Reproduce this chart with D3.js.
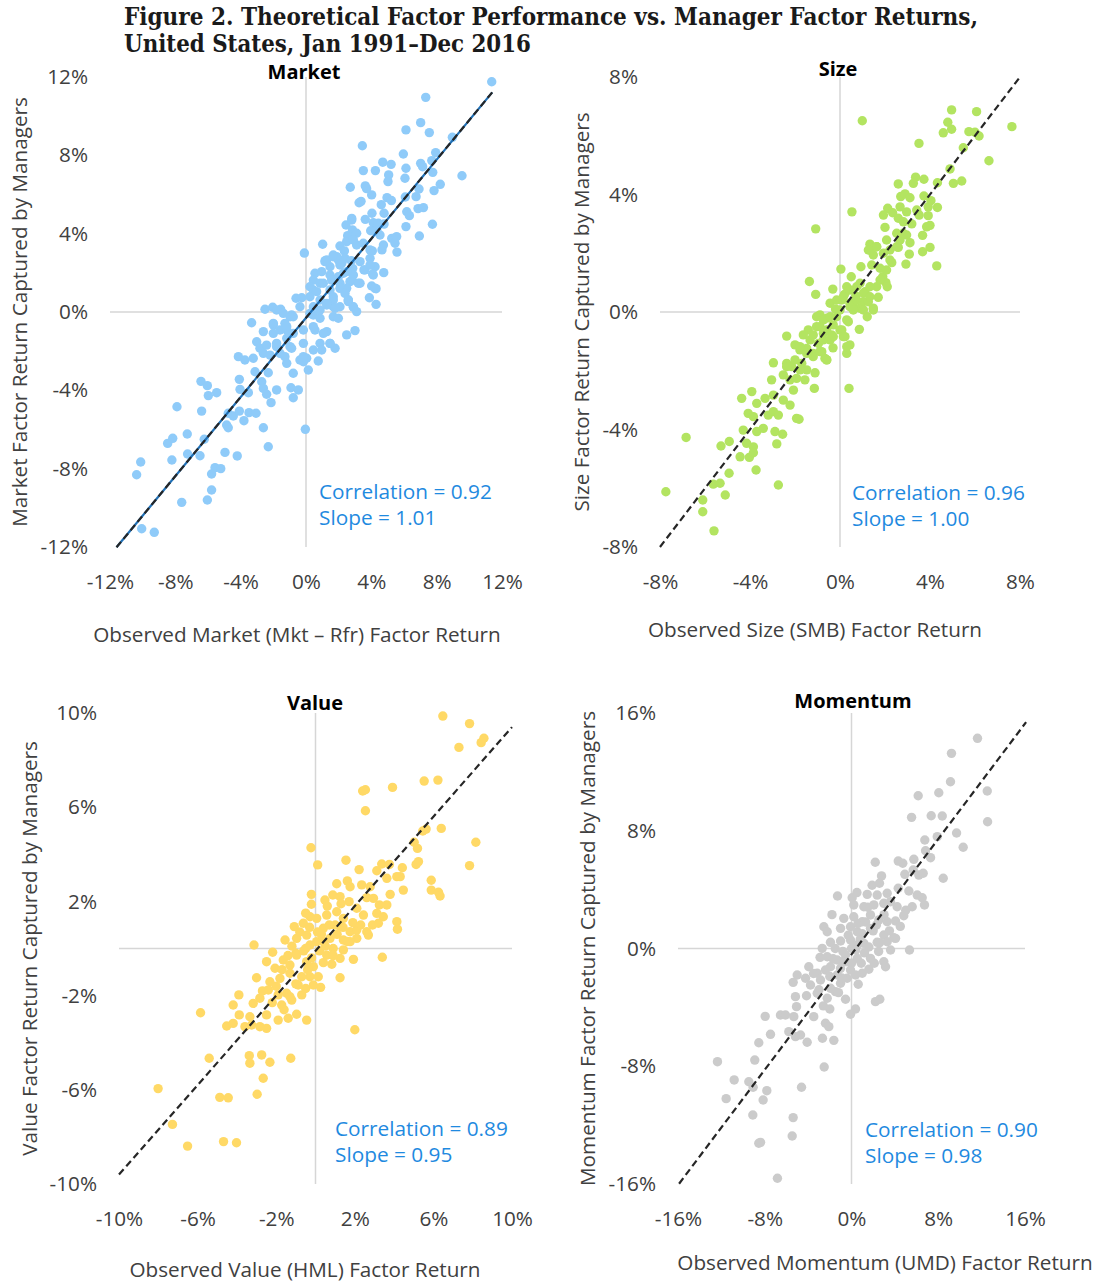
<!DOCTYPE html>
<html>
<head>
<meta charset="utf-8">
<script src="https://cdn.jsdelivr.net/npm/d3@7"></script>
<style>
  body { margin: 0; background: #fff; }
  svg text { font-family: "Open Sans", "Noto Sans", sans-serif; }
</style>
</head>
<body>
<svg id="chart" width="1099" height="1283"></svg>
<script>
// observed factor return (x) vs return captured by managers (y), in %
const marketPts = [
  [11.37,11.76],[7.33,10.96],[7.02,9.67],[6.12,9.30],[7.55,9.16],[8.96,8.92],[3.45,8.49],[5.96,8.07],[7.94,8.14],[4.70,7.65],
  [5.21,7.54],[7.02,7.59],[7.70,7.73],[6.12,7.34],[7.14,7.42],[3.51,7.22],[4.25,7.22],[7.76,7.13],[5.06,7.00],[6.06,6.83],
  [9.55,6.96],[5.02,6.66],[2.71,6.37],[3.63,6.44],[8.22,6.52],[3.71,6.30],[4.02,5.98],[6.92,6.28],[7.84,6.20],[4.96,5.84],
  [5.23,5.69],[6.08,5.87],[6.74,5.89],[3.25,5.58],[3.37,5.65],[4.61,5.48],[6.86,5.28],[7.19,5.33],[6.17,5.12],[6.33,4.92],
  [4.04,5.04],[4.78,5.04],[2.80,4.78],[3.63,4.73],[2.45,4.44],[4.12,4.56],[4.43,4.53],[4.78,4.49],[6.12,4.36],[7.74,4.48],
  [2.84,4.19],[3.96,4.15],[2.55,3.90],[2.65,3.85],[4.53,3.93],[5.25,3.76],[5.55,3.85],[5.45,3.51],[6.94,3.88],[2.08,3.37],
  [1.02,3.46],[3.10,3.42],[3.51,3.51],[2.35,3.12],[4.06,3.12],[4.65,3.17],[5.57,3.06],[-0.10,3.01],[1.18,2.62],[1.67,2.82],
  [1.98,2.66],[2.39,2.74],[2.77,2.62],[3.31,2.57],[3.92,2.74],[1.47,2.31],[2.08,2.40],[2.86,2.23],[3.55,2.15],[4.23,2.31],
  [0.55,1.98],[0.96,2.06],[1.47,1.89],[2.29,1.98],[2.90,1.89],[4.08,1.94],[4.76,2.01],[0.45,1.63],[0.86,1.47],[1.67,1.63],
  [2.08,1.47],[2.69,1.55],[3.31,1.47],[0.45,1.12],[1.47,1.12],[2.49,1.21],[4.02,1.33],[4.29,1.19],[-0.61,0.70],[-0.26,0.73],
  [0.24,0.78],[0.86,0.61],[1.67,0.78],[2.59,0.61],[3.88,0.73],[-2.51,0.14],[-2.04,0.24],[-1.55,0.14],[0.45,0.27],[1.67,0.27],
  [2.90,0.24],[4.29,0.39],[-0.88,-0.15],[-0.37,0.27],[1.27,0.36],[2.59,0.53],[3.10,0.02],[2.08,0.27],[-3.33,-0.55],[-2.00,-0.66],
  [-1.29,-0.58],[-0.78,-0.24],[0.45,-0.15],[0.86,-0.32],[1.67,-0.24],[1.98,-0.32],[-2.61,-1.00],[-2.00,-1.09],[-1.18,-0.92],[0.55,-0.92],
  [1.27,-1.00],[2.49,-1.17],[3.00,-0.95],[-3.02,-1.52],[-2.82,-1.85],[-2.41,-1.69],[-1.80,-1.60],[-1.18,-1.34],[-0.16,-1.60],[0.45,-1.94],
  [0.86,-1.60],[1.47,-1.60],[1.78,-1.85],[-4.14,-2.28],[-3.74,-2.45],[-3.23,-2.36],[-2.61,-2.11],[-2.20,-2.20],[-1.59,-2.11],[-1.29,-2.28],
  [-0.88,-1.85],[-0.37,-2.45],[0.04,-2.36],[0.96,-1.94],[-1.18,-2.62],[-0.16,-2.54],[0.14,-2.96],[0.75,-2.50],[-3.12,-3.05],[-2.31,-3.10],
  [-0.78,-3.13],[-4.08,-3.44],[-2.71,-3.56],[-6.43,-3.54],[-6.04,-3.76],[-5.47,-4.12],[-5.98,-4.27],[-4.04,-3.95],[-3.53,-4.12],[-2.61,-3.90],
  [-2.41,-4.20],[-1.80,-3.98],[-0.92,-3.87],[-0.47,-3.98],[-0.78,-4.38],[-2.14,-4.63],[-7.90,-4.84],[-6.39,-5.06],[-4.76,-5.17],[-4.45,-5.31],
  [-4.08,-5.06],[-3.49,-5.14],[-3.06,-5.17],[-3.80,-5.55],[-4.86,-5.77],[-4.76,-5.91],[-2.61,-5.91],[-0.04,-5.99],[-8.47,-6.71],[-8.16,-6.45],
  [-7.27,-6.23],[-6.23,-6.50],[-2.31,-6.88],[-7.25,-7.25],[-6.49,-7.34],[-4.96,-7.17],[-4.21,-7.35],[-8.21,-7.56],[-10.12,-7.66],[-10.37,-8.31],
  [-5.57,-7.95],[-5.22,-8.00],[-5.78,-8.27],[-5.78,-9.09],[-6.04,-9.60],[-7.61,-9.72],[-10.06,-11.07],[-9.29,-11.25],
  [1.16,2.57],[1.88,2.83],[2.19,2.49],[2.49,2.06],[2.80,1.63],[3.20,1.47],[3.61,2.15],[3.92,2.40],[4.12,1.89],[4.23,1.21],
  [0.24,1.29],[0.65,1.04],[1.06,1.47],[1.57,1.63],[1.98,1.80],[2.08,1.21],[2.39,0.95],[1.67,0.61],[1.27,0.44],[0.86,0.10],
  [0.24,-0.07],[1.78,0.19],[2.90,0.27],[2.59,0.61],[2.80,4.70],[3.10,4.02],[3.92,3.17],[4.33,4.19],[4.74,3.42],[2.49,3.59],
  [2.90,3.68],[1.27,2.66],[1.67,2.91],[-1.80,0.10],[-1.39,-0.07],[-0.98,-0.24],[-2.00,-0.58],[-1.59,-0.92],[-1.18,-0.75],[-0.78,-1.09],
  [-0.16,-0.92],[0.45,-0.75],[1.06,-1.09],[1.47,-1.60],[-0.16,-2.28],[-0.98,-1.77],[-1.80,-1.77]
];

const sizePts = [
  [4.96,6.88],[6.07,6.82],[0.99,6.51],[4.79,6.46],[4.96,6.22],[4.59,6.10],[5.73,6.14],[6.00,6.12],[6.18,5.99],[7.64,6.31],
  [3.51,5.74],[5.48,5.59],[6.62,5.15],[4.89,4.87],[5.04,4.38],[5.41,4.46],[4.33,4.40],[2.59,4.36],[3.36,4.59],[3.73,4.52],
  [3.26,4.38],[2.70,3.93],[2.89,4.02],[3.11,3.89],[3.73,3.95],[4.04,3.79],[0.53,3.41],[2.12,3.53],[1.93,3.30],[2.34,3.38],
  [2.67,3.58],[2.96,3.41],[3.41,3.47],[3.92,3.58],[4.33,3.56],[2.59,3.19],[2.82,3.07],[3.19,3.00],[3.52,3.30],[3.92,3.28],
  [-1.08,2.83],[2.00,2.88],[2.52,2.68],[2.96,2.62],[3.85,2.90],[4.00,2.95],[3.67,2.61],[1.33,2.31],[1.63,2.22],[2.22,2.11],
  [2.59,2.20],[3.11,2.36],[3.67,2.05],[4.00,2.20],[1.26,2.11],[1.48,1.94],[3.08,1.97],[0.04,1.46],[0.93,1.54],[1.41,1.60],
  [1.78,1.49],[2.30,1.68],[2.93,1.63],[4.30,1.57],[-1.36,1.04],[-1.08,0.60],[-0.32,0.78],[0.30,0.86],[0.89,0.98],[1.11,0.69],
  [1.63,0.86],[2.04,1.00],[2.10,0.86],[-0.44,0.30],[0.08,0.41],[0.59,0.30],[1.04,0.35],[1.26,0.35],[1.48,0.13],[0.44,0.18],
  [0.89,0.13],[1.21,-0.16],[0.20,0.60],[0.70,0.55],[-0.20,0.10],[1.70,0.50],[1.90,1.20],[0.50,1.20],[-0.89,-0.10],[-0.59,-0.21],
  [-0.15,-0.16],[0.37,-0.33],[-1.41,-0.61],[-1.04,-0.50],[-0.74,-0.73],[-0.37,-0.78],[0.08,-0.61],[0.22,-0.84],[0.86,-0.59],[-2.37,-0.82],
  [-1.63,-0.78],[-1.33,-0.95],[-0.96,-1.07],[-0.44,-0.95],[-0.31,-1.22],[0.44,-1.12],[0.30,-1.41],[-2.00,-1.12],[-1.78,-1.29],[-1.48,-1.24],
  [-1.19,-1.41],[-0.81,-1.35],[-0.67,-1.58],[-2.96,-1.73],[-2.37,-1.75],[-2.15,-1.86],[-1.70,-1.75],[-1.48,-1.97],[-1.11,-2.07],[-0.59,-1.63],
  [-3.04,-2.31],[-2.52,-2.14],[-2.22,-2.31],[-1.93,-2.26],[-1.56,-2.31],[-1.14,-2.60],[0.40,-2.60],[-4.37,-2.94],[-3.92,-2.71],[-3.70,-3.11],
  [-3.33,-2.94],[-2.96,-2.83],[-2.52,-3.00],[-2.22,-3.17],[-2.07,-2.66],[-4.08,-3.45],[-3.85,-3.56],[-3.19,-3.51],[-2.96,-3.39],[-2.74,-3.51],
  [-1.93,-3.62],[-1.82,-3.65],[-4.30,-4.02],[-3.70,-4.07],[-3.41,-3.96],[-2.89,-4.07],[-2.55,-4.16],[-6.84,-4.27],[-5.29,-4.56],[-4.92,-4.41],
  [-4.15,-4.47],[-3.85,-4.59],[-2.81,-4.49],[-4.44,-4.93],[-4.03,-4.95],[-3.85,-4.79],[-4.93,-5.49],[-3.73,-5.38],[-5.63,-5.86],[-5.33,-5.83],
  [-2.74,-5.89],[-7.74,-6.12],[-5.10,-6.23],[-6.10,-6.40],[-6.10,-6.80],[-5.60,-7.45],
  [-1.04,-0.16],[-0.74,-0.27],[-0.44,-0.16],[-0.89,-0.50],[-0.59,-0.61],[-0.30,-0.44],[-1.19,-0.78],[-0.74,-0.95],[-0.30,-0.84],[0.00,-0.61],
  [0.30,-0.27],[0.15,-0.84],[0.30,-1.18],[-1.78,-1.18],[-1.48,-1.41],[-1.19,-1.52],[-0.89,-1.35],[-0.59,-1.63],[-2.00,-1.63],[-2.37,-1.86],
  [-1.78,-1.97],[-0.15,0.41],[0.15,0.52],[0.44,0.30],[0.74,0.41],[1.04,0.64],[1.33,0.86],[0.74,0.86],[0.44,0.75],[0.00,0.07],
  [0.59,0.07],[1.04,0.07],[1.33,0.52],[1.48,0.07],[1.78,1.09],[2.07,1.43],[1.93,2.00],[1.33,2.11],[1.63,2.22],[2.22,1.77],
  [2.52,2.22],[2.67,2.45],[2.07,2.45],[2.81,2.68]
];

const valuePts = [
  [6.48,9.87],[7.84,9.55],[7.30,8.54],[8.43,8.74],[8.57,8.93],[2.40,6.69],[2.54,6.74],[2.54,5.85],[3.92,6.84],[5.53,7.11],
  [6.23,7.15],[5.46,4.99],[5.63,5.07],[6.40,5.10],[-0.23,4.28],[8.16,4.51],[5.02,4.51],[5.19,4.25],[0.11,3.55],[1.55,3.75],
  [2.22,3.35],[3.12,3.30],[3.37,3.59],[3.76,3.57],[4.42,3.43],[5.12,3.57],[5.24,3.69],[7.84,3.52],[1.08,2.75],[1.62,2.87],
  [1.76,2.62],[2.35,2.70],[2.78,2.62],[3.63,2.98],[4.14,3.05],[4.31,3.05],[5.89,2.90],[5.89,2.48],[6.26,2.39],[6.34,2.23],
  [-0.21,2.30],[-0.21,1.88],[0.48,2.06],[0.88,2.27],[1.25,2.20],[1.71,1.99],[2.61,2.16],[2.95,2.13],[3.25,1.85],[3.63,1.85],
  [3.80,2.30],[4.47,2.48],[-0.28,1.35],[-0.62,1.07],[0.06,1.28],[0.57,1.42],[1.08,1.56],[1.42,1.28],[2.10,1.71],[2.44,1.42],
  [3.12,1.49],[3.45,1.35],[-1.08,0.93],[0.40,0.86],[1.25,0.93],[1.76,0.71],[2.61,0.71],[3.20,1.07],[4.14,1.14],[4.17,0.82],
  [-1.55,0.36],[-0.96,0.43],[-0.45,0.57],[0.06,0.29],[0.74,0.43],[1.42,0.36],[2.10,0.43],[2.10,0.79],[-3.13,0.15],[-2.18,-0.16],
  [-0.28,0.15],[0.40,0.29],[1.42,-0.06],[1.76,0.29],[2.69,0.57],[-0.50,0.00],[0.20,-0.10],[-1.00,-0.20],[0.90,0.00],[-0.30,0.90],
  [0.30,0.60],[1.00,1.00],[1.93,-0.46],[3.40,-0.37],[-2.49,-0.56],[-2.06,-0.84],[-1.64,-0.49],[-1.30,-0.70],[-0.96,-0.28],[-0.45,-0.56],
  [-0.11,-0.77],[0.57,-0.28],[0.83,-0.67],[1.25,-0.42],[-3.00,-1.24],[-2.32,-1.41],[-1.81,-1.27],[-1.30,-1.05],[-0.88,-1.55],[-0.28,-1.20],
  [0.14,-1.20],[0.26,-1.65],[1.25,-1.24],[-2.40,-1.76],[-1.90,-1.97],[-1.47,-1.90],[-1.21,-2.19],[-0.70,-1.97],[-0.11,-1.55],[-3.90,-1.97],
  [-4.19,-2.40],[-3.17,-2.33],[-2.83,-2.11],[-1.72,-2.40],[-1.30,-2.05],[-5.85,-2.73],[-3.88,-2.82],[-3.34,-2.90],[-2.49,-2.82],[-1.90,-3.04],
  [-1.39,-2.96],[-0.96,-2.79],[-0.45,-3.04],[-4.52,-3.29],[-4.19,-3.18],[-3.59,-3.32],[-3.25,-3.25],[-2.83,-3.32],[-2.49,-3.39],[2.00,-3.45],
  [-5.41,-4.66],[-3.37,-4.55],[-3.34,-4.87],[-2.74,-4.52],[-2.32,-4.83],[-1.26,-4.66],[-2.66,-5.51],[-8.01,-5.95],[-4.87,-6.32],[-4.44,-6.34],
  [-2.97,-6.19],[-7.28,-7.47],[-6.51,-8.39],[-4.68,-8.20],[-4.02,-8.25],
  [-1.20,0.10],[-0.80,0.70],[-0.60,-0.10],[-0.20,-0.40],[0.10,0.70],[0.50,0.10],[0.70,1.00],[1.10,0.60],[1.40,0.90],[-1.40,-0.30],
  [-1.70,-0.90],[-0.70,-1.20],[-0.40,-0.90],[0.40,-0.60],[0.90,-0.30],[1.60,0.30],[1.90,1.10],[2.30,1.00],[-2.00,-1.60],[-1.00,-1.50],
  [-0.50,-1.70],[-2.70,-1.80],[0.60,1.80],[1.30,1.90],[-0.50,1.50],[-1.60,-2.60],[-2.20,-2.30],[2.90,1.00]
];

const momentumPts = [
  [11.62,14.28],[9.22,13.26],[9.13,11.33],[6.15,10.38],[8.05,10.58],[12.52,10.70],[5.54,8.91],[7.35,9.02],[8.37,9.00],[12.55,8.61],
  [6.76,7.37],[7.91,7.60],[9.69,7.85],[10.30,6.88],[6.83,6.64],[7.29,6.17],[2.19,5.86],[4.31,5.94],[4.73,5.79],[5.75,6.06],
  [5.69,5.33],[6.21,4.99],[6.61,5.11],[4.92,5.04],[8.46,4.77],[2.77,4.93],[2.58,4.43],[4.31,4.09],[3.29,3.75],[2.37,3.63],
  [-1.29,3.57],[0.06,3.45],[1.45,3.68],[5.29,3.91],[6.06,3.63],[6.52,3.45],[6.73,2.96],[5.60,2.84],[4.82,2.23],[0.21,2.96],
  [1.14,2.84],[2.06,2.96],[2.98,3.07],[3.60,3.18],[4.21,2.84],[-0.71,2.05],[0.21,2.16],[0.99,1.82],[1.75,2.28],[2.52,1.94],
  [3.29,1.82],[4.06,1.87],[-2.55,1.48],[-2.24,1.14],[-1.01,1.37],[-0.09,1.48],[0.53,1.14],[1.75,1.37],[2.98,0.92],[3.90,0.73],
  [-1.94,0.42],[-1.01,0.51],[-0.09,0.58],[1.14,0.35],[2.37,0.42],[3.29,0.46],[1.00,1.00],[2.00,1.20],[0.00,0.00],[1.20,-0.30],
  [2.50,-0.20],[0.80,0.60],[1.50,2.80],[-2.70,0.01],[0.53,0.24],[3.60,-0.10],[4.06,0.69],[5.35,-0.10],[-2.24,-0.56],[-1.32,-0.78],
  [-0.55,-0.44],[0.53,-0.67],[1.75,-0.67],[2.98,-0.90],[3.14,-1.24],[-0.50,-0.90],[-3.94,-1.24],[-1.94,-1.24],[-1.01,-1.35],[-0.09,-1.46],
  [1.60,-1.41],[-5.01,-1.80],[-4.24,-2.02],[-3.16,-1.68],[-2.40,-1.46],[-1.32,-1.80],[-0.40,-2.02],[0.37,-1.80],[0.99,-1.68],[-5.38,-2.30],
  [-3.78,-2.48],[-2.86,-2.14],[-1.94,-2.70],[-1.01,-2.36],[0.62,-2.43],[-5.17,-3.27],[-4.15,-3.21],[-3.16,-3.04],[-2.24,-3.38],[-1.48,-2.93],
  [-0.55,-3.45],[2.21,-3.61],[2.61,-3.45],[-5.07,-3.95],[-2.00,-4.11],[-0.09,-4.47],[0.37,-4.11],[-7.96,-4.61],[-6.55,-4.52],[-6.09,-4.52],
  [-5.32,-4.63],[-3.48,-4.63],[-2.40,-5.08],[-2.09,-5.31],[-7.47,-5.83],[-5.78,-5.65],[-5.17,-5.99],[-4.70,-5.88],[-4.09,-6.37],[-2.68,-6.10],
  [-1.63,-6.24],[-8.55,-6.40],[-12.36,-7.69],[-8.92,-7.58],[-2.52,-8.05],[-10.82,-8.93],[-9.47,-9.05],[-9.07,-9.43],[-7.81,-9.66],[-4.61,-9.43],
  [-11.56,-10.20],[-8.15,-10.29],[-9.10,-11.31],[-5.38,-11.49],[-8.55,-13.23],[-8.39,-13.17],[-5.47,-12.74],[-6.83,-15.61],
  [-1.50,0.00],[-0.80,-0.20],[0.40,-0.10],[1.60,0.10],[2.60,0.40],[-0.30,0.90],[0.60,1.70],[1.30,1.80],[2.30,1.60],[3.00,2.30],
  [-1.70,-0.70],[-0.90,-0.90],[0.00,-1.00],[0.90,-1.00],[2.10,-1.00],[-2.90,-0.60],[-3.50,-1.70],[-2.00,-1.90],[-0.90,-2.00],[-3.00,-2.80],
  [-2.60,-3.90],[-1.20,-3.00],[3.50,1.20],[4.50,1.50],[5.00,2.60],[-1.80,2.30],[0.50,3.80],[1.90,4.30]
];

// tick values per panel
const marketTicks = [-12, -8, -4, 0, 4, 8, 12];
const sizeTicks = [-8, -4, 0, 4, 8];
const valueTicks = [-10, -6, -2, 2, 6, 10];
const momentumTicks = [-16, -8, 0, 8, 16];

// fitted line: slope, intercept, x from, x to
const marketFit = [1.01, -0.3, -11.6, 11.4];
const sizeFit = [1.00, 0.0, -8.0, 8.0];
const valueFit = [0.95, -0.1, -10.0, 10.0];
const momentumFit = [0.98, -0.4, -15.9, 16.1];

const marketStats = ['Correlation = 0.92', 'Slope = 1.01'];
const sizeStats = ['Correlation = 0.96', 'Slope = 1.00'];
const valueStats = ['Correlation = 0.89', 'Slope = 0.95'];
const momentumStats = ['Correlation = 0.90', 'Slope = 0.98'];

const svg = d3.select('#chart');

// figure title
const title = svg.append('g')
  .attr('font-weight', 'bold')
  .attr('font-size', 24)
  .attr('fill', '#1a1a1a');
title.append('text').attr('x', 124).attr('y', 25)
  .style('font-family', '"DejaVu Serif", serif')
  .attr('textLength', 854).attr('lengthAdjust', 'spacingAndGlyphs')
  .text('Figure 2. Theoretical Factor Performance vs. Manager Factor Returns,');
title.append('text').attr('x', 124).attr('y', 52)
  .style('font-family', '"DejaVu Serif", serif')
  .attr('textLength', 407).attr('lengthAdjust', 'spacingAndGlyphs')
  .text('United States, Jan 1991\u2013Dec 2016');

const panels = [
  { name: 'Market', pts: marketPts, ticks: marketTicks, fit: marketFit, stats: marketStats,
    color: '#8fcbf9', under: '#1f6fb5',
    left: 110, right: 502, top: 77, bottom: 547,
    titleX: 304, titleY: 79,
    xTitle: 'Observed Market (Mkt \u2013 Rfr) Factor Return', xTitleX: 297, xTitleY: 642,
    yTitle: 'Market Factor Return Captured by Managers', yTitleX: 20,
    statX: 319, statY: 499 },
  { name: 'Size', pts: sizePts, ticks: sizeTicks, fit: sizeFit, stats: sizeStats,
    color: '#b3e461', under: null,
    left: 660, right: 1020, top: 77, bottom: 547,
    titleX: 838, titleY: 76,
    xTitle: 'Observed Size (SMB) Factor Return', xTitleX: 815, xTitleY: 637,
    yTitle: 'Size Factor Return Captured by Managers', yTitleX: 582,
    statX: 852, statY: 500 },
  { name: 'Value', pts: valuePts, ticks: valueTicks, fit: valueFit, stats: valueStats,
    color: '#ffd966', under: null,
    left: 119, right: 512, top: 713, bottom: 1184,
    titleX: 315, titleY: 710,
    xTitle: 'Observed Value (HML) Factor Return', xTitleX: 305, xTitleY: 1277,
    yTitle: 'Value Factor Return Captured by Managers', yTitleX: 30,
    statX: 335, statY: 1136 },
  { name: 'Momentum', pts: momentumPts, ticks: momentumTicks, fit: momentumFit, stats: momentumStats,
    color: '#cbcbcb', under: null,
    left: 678, right: 1025, top: 713, bottom: 1184,
    titleX: 853, titleY: 708,
    xTitle: 'Observed Momentum (UMD) Factor Return', xTitleX: 885, xTitleY: 1270,
    yTitle: 'Momentum Factor Return Captured by Managers', yTitleX: 588,
    statX: 865, statY: 1137 }
];

function drawPanel(p) {
  const domain = d3.extent(p.ticks);
  const x = d3.scaleLinear().domain(domain).range([p.left, p.right]);
  const y = d3.scaleLinear().domain(domain).range([p.bottom, p.top]);
  const g = svg.append('g').attr('class', 'panel');

  // zero lines
  g.append('line')
    .attr('x1', x(domain[0])).attr('x2', x(domain[1]))
    .attr('y1', y(0)).attr('y2', y(0))
    .attr('stroke', '#d6d6d6').attr('stroke-width', 1.5);
  g.append('line')
    .attr('x1', x(0)).attr('x2', x(0))
    .attr('y1', y(domain[0])).attr('y2', y(domain[1]))
    .attr('stroke', '#d6d6d6').attr('stroke-width', 1.5);

  // axes (labels only)
  const fmt = (d) => d + '%';
  const yAxis = g.append('g')
    .attr('transform', `translate(${p.left},0)`)
    .call(d3.axisLeft(y).tickValues(p.ticks).tickFormat(fmt).tickSize(0).tickPadding(22));
  const xAxis = g.append('g')
    .attr('transform', `translate(0,${p.bottom})`)
    .call(d3.axisBottom(x).tickValues(p.ticks).tickFormat(fmt).tickSize(0).tickPadding(27));
  [xAxis, yAxis].forEach((a) => {
    a.select('.domain').remove();
    a.attr('font-family', null).attr('font-size', null);
    a.selectAll('text').attr('font-size', 20.7).attr('fill', '#404040');
  });

  // dots
  g.append('g')
    .selectAll('circle')
    .data(p.pts)
    .join('circle')
    .attr('cx', (d) => x(d[0]))
    .attr('cy', (d) => y(d[1]))
    .attr('r', 4.7)
    .attr('fill', p.color);

  // fitted line
  const [slope, icpt, x0, x1] = p.fit;
  const lineData = [[x0, slope * x0 + icpt], [x1, slope * x1 + icpt]];
  const line = d3.line().x((d) => x(d[0])).y((d) => y(d[1]));
  if (p.under) {
    g.append('path').attr('d', line(lineData))
      .attr('stroke', p.under).attr('stroke-width', 2.2).attr('fill', 'none');
  }
  g.append('path').attr('d', line(lineData))
    .attr('stroke', '#262626').attr('stroke-width', 2.2)
    .attr('stroke-dasharray', '7,4').attr('fill', 'none');

  // panel title
  g.append('text')
    .attr('x', p.titleX).attr('y', p.titleY)
    .attr('text-anchor', 'middle')
    .attr('font-size', 20).attr('font-weight', 'bold').attr('fill', '#000')
    .text(p.name);

  // axis titles
  g.append('text')
    .attr('x', p.xTitleX).attr('y', p.xTitleY)
    .attr('text-anchor', 'middle')
    .attr('font-size', 20.7).attr('fill', '#404040')
    .text(p.xTitle);
  g.append('text')
    .attr('transform', `translate(${p.yTitleX},${(p.top + p.bottom) / 2}) rotate(-90)`)
    .attr('dy', '0.35em')
    .attr('text-anchor', 'middle')
    .attr('font-size', 20.7).attr('fill', '#404040')
    .text(p.yTitle);

  // stats annotation
  g.append('g')
    .selectAll('text')
    .data(p.stats)
    .join('text')
    .attr('x', p.statX)
    .attr('y', (d, i) => p.statY + i * 26)
    .attr('font-size', 20.8).attr('fill', '#1f8ae0')
    .text((d) => d);
}

panels.forEach(drawPanel);
</script>
</body>
</html>
